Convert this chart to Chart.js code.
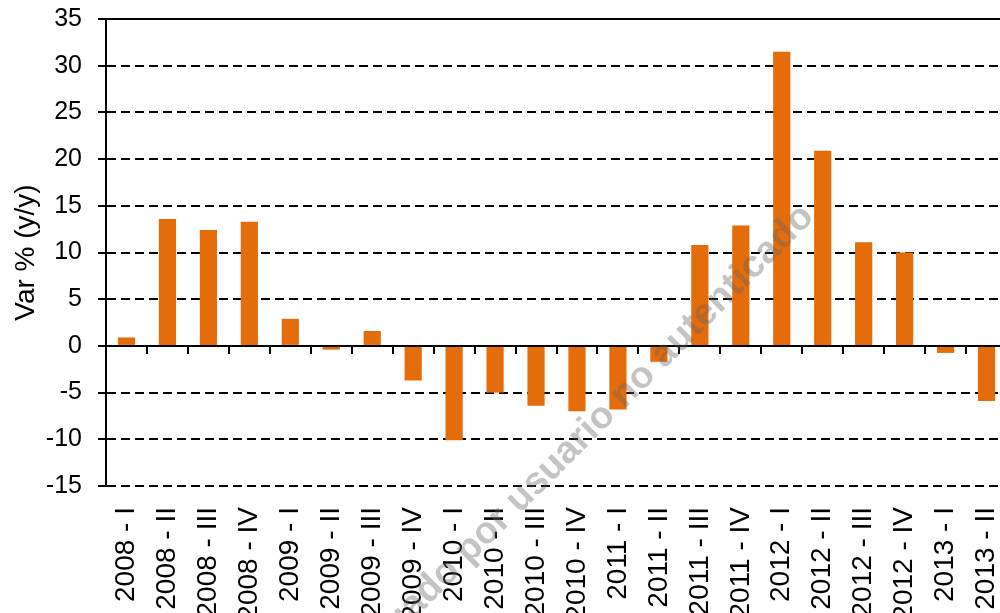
<!DOCTYPE html>
<html>
<head>
<meta charset="utf-8">
<script src="https://cdn.jsdelivr.net/npm/chart.js@4"></script>
<style>
  html, body { margin: 0; padding: 0; background: #fff; overflow: hidden; }
  #wrap { width: 1010px; height: 613px; }
</style>
</head>
<body>
<div id="wrap"><canvas id="chart" width="1010" height="613"></canvas></div>
<script>
// Quarterly categories
const categories = [
  "2008 - I", "2008 - II", "2008 - III", "2008 - IV",
  "2009 - I", "2009 - II", "2009 - III", "2009 - IV",
  "2010 - I", "2010 - II", "2010 - III", "2010 - IV",
  "2011 - I", "2011 - II", "2011 - III", "2011 - IV",
  "2012 - I", "2012 - II", "2012 - III", "2012 - IV",
  "2013 - I", "2013 - II",
]

// Var % (y/y)
const varPct = [
  0.9, 13.6, 12.4, 13.3,
  2.9, -0.4, 1.6, -3.7,
  -10.1, -5.0, -6.4, -7.0,
  -6.8, -1.7, 10.8, 12.9,
  31.5, 20.9, 11.1, 10.0,
  -0.75, -5.9,
]

// y axis ticks
const yMin = -15
const yMax = 35
const yStep = 5

const axisTitle = "Var % (y/y)"
const watermark = "Descargado por usuario no autenticado"

const FONT = "'Liberation Sans', Arial, sans-serif"

const watermarkPlugin = {
  id: "watermark",
  afterDraw(chart) {
    const ctx = chart.ctx
    ctx.save()
    ctx.translate(808, 211)
    ctx.rotate(-Math.PI / 4)
    ctx.font = "bold 38px " + FONT
    ctx.fillStyle = "rgba(100, 100, 100, 0.38)"
    ctx.textAlign = "right"
    ctx.textBaseline = "middle"
    ctx.fillText(watermark, 0, 0)
    ctx.restore()
  },
}

new Chart(document.getElementById("chart").getContext("2d"), {
  type: "bar",
  data: {
    labels: categories,
    datasets: [
      {
        data: varPct,
        backgroundColor: "#E46C0A",
        borderWidth: 0,
        categoryPercentage: 1,
        barPercentage: 0.42,
        xAxisID: "x",
      },
    ],
  },
  options: {
    responsive: false,
    animation: false,
    events: [],
    layout: { padding: { top: 19, right: 3, left: 0, bottom: 0 } },
    plugins: {
      legend: { display: false },
      tooltip: { enabled: false },
    },
    scales: {
      x: {
        type: "category",
        position: "bottom",
        offset: true,
        grid: { display: false, drawTicks: false, offset: true },
        border: { display: false },
        ticks: {
          color: "#000",
          font: { family: FONT, size: 28 },
          minRotation: 90,
          maxRotation: 90,
          autoSkip: false,
          padding: 21,
        },
        afterFit: (scale) => {
          scale.height = 127
          scale.paddingLeft = 0
          scale.paddingRight = 0
        },
      },
      x2: {
        type: "category",
        axis: "x",
        labels: categories,
        position: { y: 0 },
        offset: true,
        grid: {
          display: true,
          offset: true,
          drawOnChartArea: false,
          drawTicks: true,
          tickLength: 7,
          color: "#000",
          lineWidth: 2,
        },
        border: { display: true, color: "#000", width: 2 },
        ticks: { display: false },
      },
      y: {
        min: yMin,
        max: yMax,
        ticks: {
          stepSize: yStep,
          color: "#000",
          font: { family: FONT, size: 25 },
          padding: 16,
        },
        grid: {
          color: "#000",
          lineWidth: 2,
          tickLength: 8,
          tickWidth: 2,
          tickBorderDash: [],
        },
        border: {
          display: true,
          color: "#000",
          width: 2,
          dash: (c) => (c.tick && (c.tick.value === 0 || c.tick.value === yMax) ? [] : [9, 5]),
        },
        title: {
          display: true,
          text: axisTitle,
          color: "#000",
          font: { family: FONT, size: 28 },
          padding: { top: 9, bottom: 0 },
        },
        afterFit: (scale) => {
          scale.width = 106
          scale.paddingTop = 0
          scale.paddingBottom = 0
        },
      },
    },
  },
  plugins: [watermarkPlugin],
})
</script>
</body>
</html>
